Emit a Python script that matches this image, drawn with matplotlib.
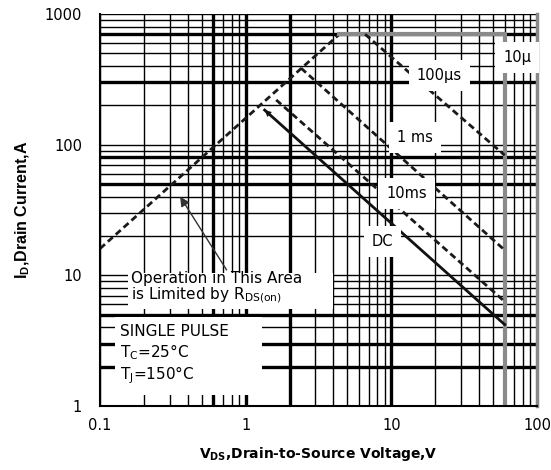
import matplotlib
matplotlib.use("Agg")
import matplotlib.pyplot as plt
from matplotlib.patches import Rectangle

# ---- data ----
rds_v = [0.1, 4.4]
rds_i = [16, 700]
t10us_v = [4.4, 60, 60]
t10us_i = [700, 700, 1]
t100us_v = [6.6, 60]
t100us_i = [700, 83]
t1ms_v = [2.4, 60]
t1ms_i = [385, 15.6]
t10ms_v = [1.62, 60]
t10ms_i = [220, 6.3]
dc_v = [1.35, 60]
dc_i = [184, 4.2]

x_ticks = [0.1, 1, 10, 100]
x_ticklabels = ["0.1", "1", "10", "100"]
y_ticks = [1, 10, 100, 1000]
y_ticklabels = ["1", "10", "100", "1000"]

plt.rcParams['font.family'] = ['DejaVu Sans']

fig = plt.figure(figsize=(5.51, 4.70), dpi=100)
ax = fig.add_axes([100/551, 64/470, 437/551, 392/470])
ax.set_xscale('log')
ax.set_yscale('log')
ax.set_xlim(0.1, 100)
ax.set_ylim(1, 1000)

# grid
ax.set_xticks(x_ticks)
ax.set_xticklabels(x_ticklabels)
ax.set_yticks(y_ticks)
ax.set_yticklabels(y_ticklabels)
ax.grid(True, which='both', color='black', lw=1.0, zorder=0.5)
ax.set_axisbelow(True)
for xv in [0.6, 1, 2, 10]:
    ax.axvline(xv, color='black', lw=2.4, zorder=0.6)
for yv in [700, 300, 80, 50, 5, 3, 2]:
    ax.axhline(yv, color='black', lw=2.4, zorder=0.6)

ax.tick_params(which='both', length=0, labelsize=10.5)
ax.tick_params(axis='x', pad=9)
ax.tick_params(axis='y', pad=13)

for s in ['left', 'bottom']:
    ax.spines[s].set_color('black')
    ax.spines[s].set_linewidth(1.5)
ax.spines['top'].set_visible(False)
ax.spines['right'].set_color('#888888')
ax.spines['right'].set_linewidth(2.5)

dash = (2.4, 1.4)
ax.plot(rds_v, rds_i, color='#1a1a1a', lw=2, dashes=dash, zorder=2)
ax.plot(t10us_v, t10us_i, color='#8a8a8a', lw=3, zorder=2, solid_joinstyle='round')
ax.plot(t100us_v, t100us_i, color='#1a1a1a', lw=2, dashes=dash, zorder=2)
ax.plot(t1ms_v, t1ms_i, color='#1a1a1a', lw=2, dashes=dash, zorder=2)
ax.plot(t10ms_v, t10ms_i, color='#1a1a1a', lw=2, dashes=dash, zorder=2)
ax.plot(dc_v, dc_i, color='#111111', lw=2, zorder=2)
# small arrow tip at the start of the DC line
tip_from = (dc_v[0] * 1.25, dc_i[0] / 1.25)
ax.annotate('', xy=(dc_v[0], dc_i[0]), xytext=tip_from,
            arrowprops=dict(arrowstyle='-|>', lw=0, color='#111111',
                            mutation_scale=12, shrinkA=0, shrinkB=0), zorder=2)

# curve labels
box = dict(boxstyle='square,pad=0.55', fc='white', ec='none')
lab_kw = dict(ha='center', va='center', fontsize=10.5, zorder=4, bbox=box)
ax.text(72.9, 468, "10μ", **lab_kw)
ax.text(21.3, 341, "100μs", **lab_kw)
ax.text(14.6, 114, "1 ms", **lab_kw)
ax.text(12.7, 42.6, "10ms", **lab_kw)
ax.text(8.67, 18, "DC", **lab_kw)

# annotation boxes
ax.add_patch(Rectangle((0.064, 0.247), 0.469, 0.092, transform=ax.transAxes,
                       fc='white', ec='none', zorder=3))
ax.add_patch(Rectangle((0.034, 0.028), 0.337, 0.199, transform=ax.transAxes,
                       fc='white', ec='none', zorder=3))
note_kw = dict(transform=ax.transAxes, ha='left', va='center', fontsize=11, zorder=4)
ax.text(0.071, 0.302,
        "Operation in This Area\n" + r"is Limited by R$_{\mathregular{DS(on)}}$",
        linespacing=0.95, **note_kw)
ax.text(0.046, 0.189, "SINGLE PULSE", **note_kw)
ax.text(0.046, 0.138, r"T$_{\mathregular{C}}$=25°C", **note_kw)
ax.text(0.046, 0.079, r"T$_{\mathregular{J}}$=150°C", **note_kw)

ax.annotate('', xy=(0.355, 40), xytext=(0.74, 11),
            arrowprops=dict(arrowstyle='-|>', lw=1, color='#333333',
                            mutation_scale=14, shrinkA=0, shrinkB=0), zorder=2.5)

ax.set_xlabel(r"V$_{\mathregular{DS}}$,Drain-to-Source Voltage,V", fontsize=10,
              fontweight='bold', labelpad=8)
ax.set_ylabel(r"I$_{\mathregular{D}}$,Drain Current,A", fontsize=11.5,
              fontweight='bold', family='Liberation Sans', labelpad=9)

fig.savefig("out.png", dpi=100)
